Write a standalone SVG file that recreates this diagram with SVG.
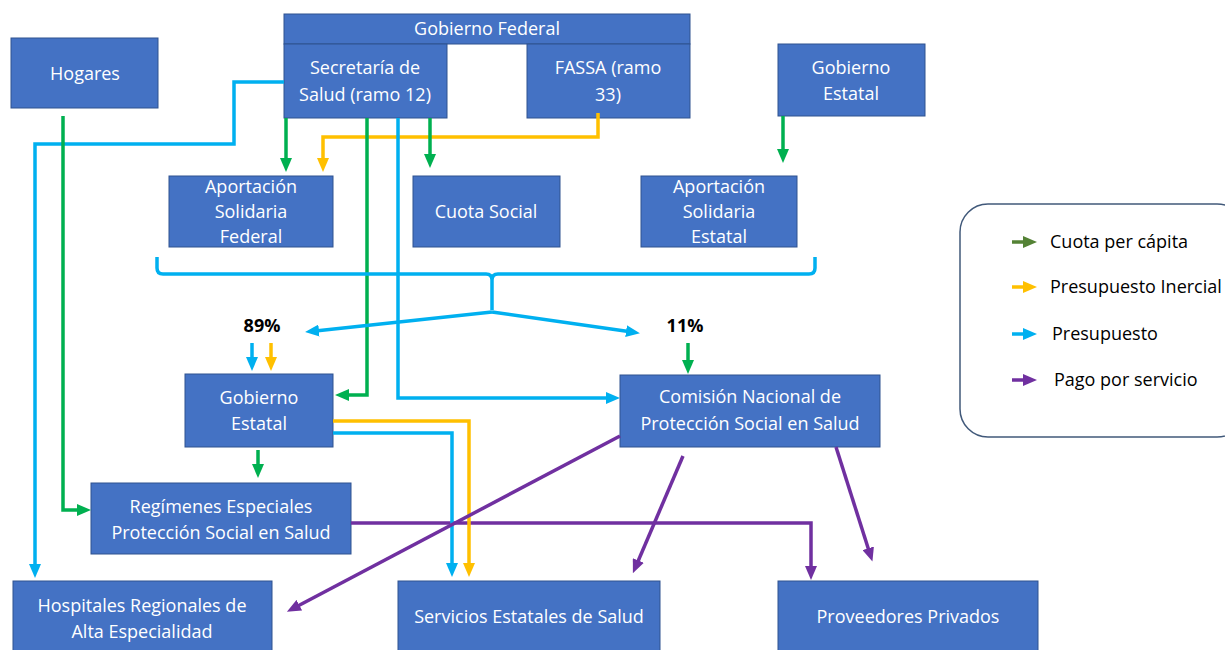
<svg xmlns="http://www.w3.org/2000/svg" width="1225" height="650" viewBox="0 0 1225 650">
<style>
.box{fill:#4472C4;stroke:#2F528F;stroke-width:1}
.t{font-family:"Open Sans","Noto Sans","Liberation Sans",sans-serif;font-size:18px;fill:#fff;text-anchor:middle}
.lt{font-family:"Open Sans","Noto Sans","Liberation Sans",sans-serif;font-size:18px;fill:#000}
.pct{font-family:"Open Sans","Noto Sans","Liberation Sans",sans-serif;font-size:18px;font-weight:bold;fill:#000;text-anchor:middle}
.c{fill:none;stroke-width:3.5;stroke-linejoin:miter}
.g{stroke:#00B050}
.y{stroke:#FFC000}
.b{stroke:#00B0F0}
.p{stroke:#7030A0}
.gd{stroke:#548235}
</style>
<defs>
<marker id="ag" viewBox="0 0 14 12" refX="6" refY="6" markerWidth="14" markerHeight="12" markerUnits="userSpaceOnUse" orient="auto"><path d="M0,0 L14,6 L0,12 z" fill="#00B050"/></marker>
<marker id="ay" viewBox="0 0 14 12" refX="6" refY="6" markerWidth="14" markerHeight="12" markerUnits="userSpaceOnUse" orient="auto"><path d="M0,0 L14,6 L0,12 z" fill="#FFC000"/></marker>
<marker id="ab" viewBox="0 0 14 12" refX="6" refY="6" markerWidth="14" markerHeight="12" markerUnits="userSpaceOnUse" orient="auto"><path d="M0,0 L14,6 L0,12 z" fill="#00B0F0"/></marker>
<marker id="ap" viewBox="0 0 14 12" refX="6" refY="6" markerWidth="14" markerHeight="12" markerUnits="userSpaceOnUse" orient="auto"><path d="M0,0 L14,6 L0,12 z" fill="#7030A0"/></marker>
<marker id="agd" viewBox="0 0 14 12" refX="6" refY="6" markerWidth="14" markerHeight="12" markerUnits="userSpaceOnUse" orient="auto"><path d="M0,0 L14,6 L0,12 z" fill="#548235"/></marker>
</defs>
<rect width="1225" height="650" fill="#fff"/>

<g id="hogares"><rect class="box" x="11" y="38" width="147" height="70"/><text class="t" x="85" y="80">Hogares</text></g>
<g id="gobierno-federal"><rect class="box" x="284" y="14" width="406" height="30"/><text class="t" x="487" y="35">Gobierno Federal</text></g>
<g id="secretaria"><rect class="box" x="284" y="44" width="163" height="74"/><text class="t" x="365" y="74">Secretaría de</text><text class="t" x="365" y="101">Salud (ramo 12)</text></g>
<g id="fassa"><rect class="box" x="527" y="44" width="163" height="74"/><text class="t" x="608" y="74">FASSA (ramo</text><text class="t" x="608" y="101">33)</text></g>
<g id="gobierno-estatal-top"><rect class="box" x="778" y="44" width="147" height="72"/><text class="t" x="851" y="74">Gobierno</text><text class="t" x="851" y="100">Estatal</text></g>
<g id="aportacion-federal"><rect class="box" x="169" y="176" width="164" height="71"/><text class="t" x="251" y="193">Aportación</text><text class="t" x="251" y="218">Solidaria</text><text class="t" x="251" y="243">Federal</text></g>
<g id="cuota-social"><rect class="box" x="413" y="176" width="147" height="71"/><text class="t" x="486" y="218">Cuota Social</text></g>
<g id="aportacion-estatal"><rect class="box" x="641" y="176" width="156" height="71"/><text class="t" x="719" y="193">Aportación</text><text class="t" x="719" y="218">Solidaria</text><text class="t" x="719" y="243">Estatal</text></g>
<g id="gobierno-estatal"><rect class="box" x="185" y="374" width="148" height="73"/><text class="t" x="259" y="404">Gobierno</text><text class="t" x="259" y="430">Estatal</text></g>
<g id="comision"><rect class="box" x="620" y="375" width="260" height="72"/><text class="t" x="750" y="403">Comisión Nacional de</text><text class="t" x="750" y="430">Protección Social en Salud</text></g>
<g id="regimenes"><rect class="box" x="91" y="483" width="260" height="71"/><text class="t" x="221" y="513">Regímenes Especiales</text><text class="t" x="221" y="539">Protección Social en Salud</text></g>
<g id="hospitales"><rect class="box" x="13" y="581" width="259" height="70"/><text class="t" x="142" y="612">Hospitales Regionales de</text><text class="t" x="142" y="638">Alta Especialidad</text></g>
<g id="servicios"><rect class="box" x="398" y="581" width="262" height="70"/><text class="t" x="529" y="623">Servicios Estatales de Salud</text></g>
<g id="proveedores"><rect class="box" x="778" y="581" width="260" height="70"/><text class="t" x="908" y="623">Proveedores Privados</text></g>

<g id="labels"><text class="pct" x="262" y="332">89%</text><text class="pct" x="685" y="332">11%</text></g>

<g id="connectors">
<path class="c b" d="M284,82 H234 V144 H35 V570" marker-end="url(#ab)"/>
<path class="c g" d="M63,116 V510 H83" marker-end="url(#ag)"/>
<path class="c g" d="M286,118 V164" marker-end="url(#ag)"/>
<path class="c y" d="M598,113 V137 H323 V164" marker-end="url(#ay)"/>
<path class="c g" d="M430,118 V160" marker-end="url(#ag)"/>
<path class="c g" d="M367,118 V395 H343" marker-end="url(#ag)"/>
<path class="c b" d="M398,118 V398 H612" marker-end="url(#ab)"/>
<path class="c g" d="M783,116 V155" marker-end="url(#ag)"/>
<path class="c b" d="M157,257 V268 Q157,274 163,274 H486 Q492,274 492,280 V310 M492,280 Q492,274 498,274 H809 Q815,274 815,268 V257"/>
<path class="c b" d="M492,312 L313,331.2" marker-end="url(#ab)"/>
<path class="c b" d="M492,312 L632,332" marker-end="url(#ab)"/>
<path class="c b" d="M252,343 V363" marker-end="url(#ab)"/>
<path class="c y" d="M271,343 V363" marker-end="url(#ay)"/>
<path class="c g" d="M688,343 V366" marker-end="url(#ag)"/>
<path class="c g" d="M258,450 V470" marker-end="url(#ag)"/>
<path class="c p" d="M351,523 H811 V572" marker-end="url(#ap)"/>
<path class="c y" d="M333,421 H469 V569" marker-end="url(#ay)"/>
<path class="c b" d="M333,433 H452 V569" marker-end="url(#ab)"/>
<path class="c p" d="M620,436 L294,608" marker-end="url(#ap)"/>
<path class="c p" d="M683,456 L636,566" marker-end="url(#ap)"/>
<path class="c p" d="M836,447 L870,554" marker-end="url(#ap)"/>
</g>

<g id="legend">
<rect x="960" y="204" width="285" height="233" rx="28" fill="#fff" stroke="#41597A" stroke-width="1.5"/>
<path class="c gd" d="M1012,242 H1029" marker-end="url(#agd)"/>
<path class="c y" d="M1012,287 H1029" marker-end="url(#ay)"/>
<path class="c b" d="M1012,334 H1029" marker-end="url(#ab)"/>
<path class="c p" d="M1012,380 H1029" marker-end="url(#ap)"/>
<text class="lt" x="1050" y="248">Cuota per cápita</text>
<text class="lt" x="1050" y="293">Presupuesto Inercial</text>
<text class="lt" x="1052" y="340">Presupuesto</text>
<text class="lt" x="1054" y="386">Pago por servicio</text>
</g>
</svg>
